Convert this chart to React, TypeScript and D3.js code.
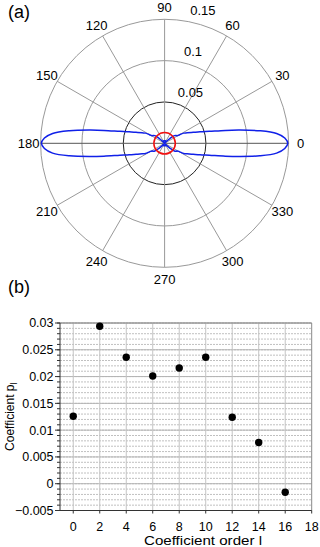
import React from "react";
import * as d3 from "d3";

// (a) polar plot
const angleTicks = [0, 30, 60, 90, 120, 150, 180, 210, 240, 270, 300, 330];
const radiusTicks = [0.05, 0.1, 0.15];
const radiusLabels = ["0.05", "0.1", "0.15"];
// one quadrant of the blue lobe (deg, value)
const lobeAngles = [0, 2.5, 5, 7.5, 10, 12, 15, 18, 21, 25, 28, 29.5, 31, 34, 38, 42, 45, 48, 55, 65, 75, 90];
const lobeRadii = [0.149, 0.1455, 0.136, 0.116, 0.092, 0.075, 0.056, 0.045, 0.037, 0.03, 0.0262, 0.021, 0.0178, 0.017, 0.015, 0.009, 0.004, 0.001, 0.002, 0.003, 0.0032, 0.003];
const isoRadius = 0.013;

// (b) coefficients
const orders = [0, 2, 4, 6, 8, 10, 12, 14, 16];
const coefficients = [0.0126, 0.0294, 0.0236, 0.0201, 0.0216, 0.0236, 0.0124, 0.0077, -0.0016];
const xTicks = [0, 2, 4, 6, 8, 10, 12, 14, 16, 18];
const yTicks = [-0.005, 0, 0.005, 0.01, 0.015, 0.02, 0.025, 0.03];
const yTickLabels = ["\u22120.005", "0", "0.005", "0.01", "0.015", "0.02", "0.025", "0.03"];

const W = 320;
const H = 547;
const cx = 164.6;
const cy = 143.3;
const R = 124;

export default function App() {
  const rScale = d3.scaleLinear().domain([0, 0.15]).range([0, R]);
  const toRad = (deg: number) => (deg * Math.PI) / 180;

  // mirror the quadrant round the full circle
  const q = lobeAngles.map((a, i) => [a, lobeRadii[i]]);
  const pts: number[][] = [];
  q.forEach((p) => pts.push(p));
  q.slice(0, -1).reverse().forEach((p) => pts.push([180 - p[0], p[1]]));
  q.slice(1).forEach((p) => pts.push([180 + p[0], p[1]]));
  q.slice(1, -1).reverse().forEach((p) => pts.push([360 - p[0], p[1]]));

  const lobe = d3
    .lineRadial<number[]>()
    .angle((d) => Math.PI / 2 - toRad(d[0]))
    .radius((d) => rScale(d[1]))
    .curve(d3.curveCatmullRomClosed.alpha(0.5));

  // scatter
  const x = d3.scaleLinear().domain([-1, 18]).range([60, 311.7]);
  const y = d3.scaleLinear().domain([-0.005, 0.03]).range([510.5, 323]);
  const minor = d3.range(-5, 31).map((v) => v / 1000);

  return (
    <svg
      width={W}
      height={H}
      style={{ position: "absolute", left: 0, top: 0, background: "#fff" }}
      fontFamily="'Liberation Sans', Arial, Helvetica, sans-serif"
    >
      <text x={8} y={18} fontSize={18}>(a)</text>
      <g transform={`translate(${cx},${cy})`}>
        {radiusTicks.map((t) => (
          <circle
            key={t}
            r={rScale(t)}
            fill="none"
            stroke={t === 0.05 ? "#222" : "#999"}
            strokeWidth={1}
          />
        ))}
        {angleTicks.map((a) => (
          <line
            key={a}
            x1={0}
            y1={0}
            x2={R * Math.cos(toRad(a))}
            y2={-R * Math.sin(toRad(a))}
            stroke={a === 0 || a === 180 ? "#555" : "#999"}
            strokeWidth={1}
          />
        ))}
        {angleTicks.map((a) => (
          <text
            key={"l" + a}
            x={136 * Math.cos(toRad(a))}
            y={-136 * Math.sin(toRad(a))}
            dy="0.36em"
            textAnchor="middle"
            fontSize={13}
          >
            {a}
          </text>
        ))}
        {radiusTicks.map((t, i) => (
          <text
            key={"r" + t}
            x={7 + rScale(t) * 0.15}
            y={-rScale(t) - 4.5}
            fontSize={13}
          >
            {radiusLabels[i]}
          </text>
        ))}
        <path d={lobe(pts) || ""} fill="none" stroke="#1020e8" strokeWidth={1.5} />
        <circle r={rScale(isoRadius)} fill="none" stroke="#f01010" strokeWidth={1.5} />
      </g>

      <text x={8} y={293} fontSize={18}>(b)</text>
      <g>
        {minor.map((v) => (
          <line
            key={"m" + v}
            x1={x(-1)}
            x2={x(18)}
            y1={y(v)}
            y2={y(v)}
            stroke="#c0c0c0"
            strokeWidth={1}
            strokeDasharray="2,1"
          />
        ))}
        {yTicks.map((v) => (
          <line key={"g" + v} x1={x(-1)} x2={x(18)} y1={y(v)} y2={y(v)} stroke="#b4b4b4" strokeWidth={1} />
        ))}
        {xTicks.slice(0, -1).map((v) => (
          <line key={"v" + v} x1={x(v)} x2={x(v)} y1={y(0.03)} y2={y(-0.005)} stroke="#c4c4c4" strokeWidth={1} />
        ))}
        <line x1={x(-1)} x2={x(18)} y1={y(0.03)} y2={y(0.03)} stroke="#888" />
        <line x1={x(18)} x2={x(18)} y1={y(0.03)} y2={y(-0.005)} stroke="#888" />
        <line x1={x(-1)} x2={x(-1)} y1={y(0.03)} y2={y(-0.005)} stroke="#333" />
        <line x1={x(-1)} x2={x(18)} y1={y(-0.005)} y2={y(-0.005)} stroke="#333" />
        {minor.map((v) => (
          <line key={"mt" + v} x1={x(-1) - 3} x2={x(-1)} y1={y(v)} y2={y(v)} stroke="#333" />
        ))}
        {yTicks.map((v, i) => (
          <g key={"yt" + v}>
            <line x1={x(-1) - 5} x2={x(-1)} y1={y(v)} y2={y(v)} stroke="#333" />
            <text x={x(-1) - 6.5} y={y(v)} dy="0.35em" textAnchor="end" fontSize={12.5}>
              {yTickLabels[i]}
            </text>
          </g>
        ))}
        {xTicks.map((v) => (
          <g key={"xt" + v}>
            <line x1={x(v)} x2={x(v)} y1={y(-0.005)} y2={y(-0.005) + 3} stroke="#333" />
            <text x={x(v)} y={530.5} textAnchor="middle" fontSize={12.5}>
              {v}
            </text>
          </g>
        ))}
        {orders.map((o, i) => (
          <circle key={"p" + o} cx={x(o)} cy={y(coefficients[i])} r={3.7} fill="#000" />
        ))}
        <text x={203} y={545} textAnchor="middle" fontSize={12} textLength={118} lengthAdjust="spacingAndGlyphs">
          Coefficient order l
        </text>
        <text transform={`translate(14,${(y(0.03) + y(-0.005)) / 2}) rotate(-90)`} textAnchor="middle" fontSize={12}>
          Coefficient p<tspan fontSize={8.5} dy={2.5}>l</tspan>
        </text>
      </g>
    </svg>
  );
}
